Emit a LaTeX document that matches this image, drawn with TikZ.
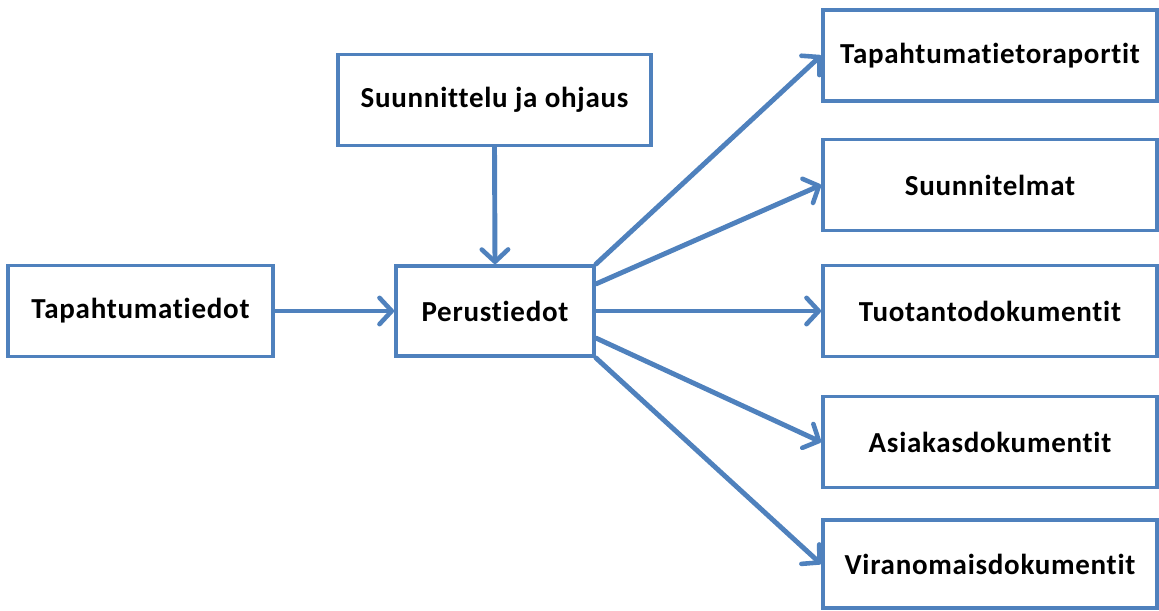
\documentclass[tikz,border=0pt]{standalone}
\usepackage{fontspec}
\setmainfont{Carlito}[Ligatures=NoCommon, LetterSpace=2.5]
\usepackage{tikz}
\usetikzlibrary{positioning, arrows.meta}
\definecolor{officeblue}{HTML}{4F81BD}
\tikzset{
    box/.style={rectangle, draw=officeblue, line width=2.2pt, fill=white, minimum height=1.82cm, inner sep=0pt, font=\fontsize{16.5}{20}\selectfont\bfseries},
    flow/.style={draw=officeblue, line width=2.8pt, line cap=round, -{Straight Barb[length=7pt, width=15pt, line width=2.6pt, round]}},
}
\begin{document}
\begin{tikzpicture}
    \useasboundingbox (0,0) rectangle (23.18,12.2);
    % input side
    \node[box, minimum width=5.3cm] (tapt) at (2.81, 5.98) {Tapahtumatiedot};
    \node[box, minimum width=3.96cm, minimum height=1.8cm] (perus) at (9.9, 5.98) {Perustiedot};
    \node[box, minimum width=6.26cm] (ohjaus) at (9.89, 10.2) {Suunnittelu ja ohjaus};
    % outputs
    \node[box, minimum width=6.68cm] (raportit) at (19.8, 11.09) {Tapahtumatietoraportit};
    \node[box, minimum width=6.68cm] (suunnitelmat) at (19.8, 8.5) {Suunnitelmat};
    \node[box, minimum width=6.68cm] (tuotanto) at (19.8, 5.98) {Tuotantodokumentit};
    \node[box, minimum width=6.68cm] (asiakas) at (19.8, 3.36) {Asiakasdokumentit};
    \node[box, minimum width=6.68cm, minimum height=1.76cm] (viranomais) at (19.8, 0.92) {Viranomaisdokumentit};

    \draw[flow] (tapt.east) -- (perus.west);
    \draw[flow] (ohjaus.south) -- (perus.north);
    \draw[flow] (perus.north east) -- (raportit.west);
    \draw[flow] (perus.15) -- (suunnitelmat.west);
    \draw[flow] (perus.east) -- (tuotanto.west);
    \draw[flow] (perus.-15) -- (asiakas.west);
    \draw[flow] (perus.south east) -- (viranomais.west);
\end{tikzpicture}
\end{document}
